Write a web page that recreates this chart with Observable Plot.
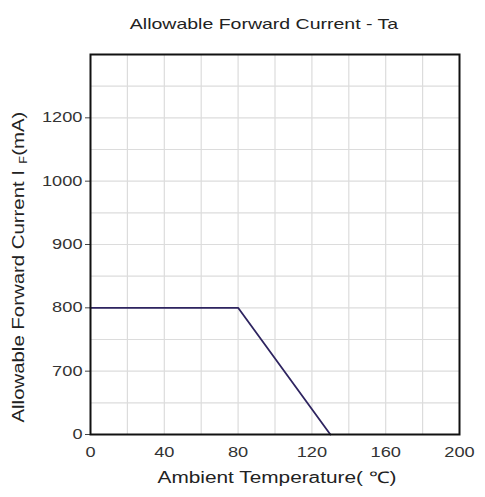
<!DOCTYPE html>
<html>
<head>
<meta charset="utf-8">
<script src="https://cdn.jsdelivr.net/npm/d3@7"></script>
<script src="https://cdn.jsdelivr.net/npm/@observablehq/plot@0.6"></script>
<style>
  html, body { margin: 0; padding: 0; background: #fff; }
</style>
</head>
<body>
<script>
// Data
const temps = [0, 80, 130];           // Ambient temperature (°C)
const currents = [800, 800, 0];       // Allowable forward current (mA)
const xTicks = [0, 40, 80, 120, 160, 200];
const xGrid = [20, 40, 60, 80, 100, 120, 140, 160, 180];
const yTicks = [0, 700, 800, 900, 1000, 1200];
const yDomain = [0, 700, 800, 900, 1000, 1200, 1400];
const yGrid = [350, 750, 850, 950, 1100, 1300];
const titleText = "Allowable Forward Current - Ta";
const xLabel = "Ambient Temperature( \u2103)";
const yLabelMain = "Allowable Forward Current I";
const yLabelSub = "F";
const yLabelUnit = "(mA)";

const W = 485, H = 497, mL = 90, mR = 26, mT = 54, mB = 63;
const step = (H - mT - mB) / (yDomain.length - 1);
const yRange = yDomain.map((d, i) => H - mB - i * step);

const points = temps.map((t, i) => ({t, c: currents[i]}));

const chart = Plot.plot({
  width: W,
  height: H,
  marginLeft: mL,
  marginRight: mR,
  marginTop: mT,
  marginBottom: mB,
  style: {fontFamily: "'Liberation Sans', Arial, sans-serif", fontSize: "14px", color: "#333", background: "#fff"},
  x: {domain: [0, 200]},
  y: {type: "linear", domain: yDomain, range: yRange},
  marks: [
    Plot.ruleX(xGrid, {stroke: "#dcdcdc", strokeWidth: 1.2}),
    Plot.ruleY(yGrid.concat(yTicks.slice(1)), {stroke: "#dcdcdc", strokeWidth: 1.2}),
    Plot.axisY({ticks: yTicks, tickSize: 5, tickPadding: 3, tickFormat: d => String(d), label: null, stroke: "#444", fill: "#333"}),
    Plot.axisX({ticks: xTicks, tickSize: 0, tickPadding: 13, tickFormat: d => String(d), label: null, fill: "#333"}),
    Plot.line(points, {x: "t", y: "c", stroke: "#2e2460", strokeWidth: 1.8}),
    Plot.frame({stroke: "#111", strokeWidth: 2}),
    Plot.text([titleText], {frameAnchor: "top", dx: -11, dy: -36, fontSize: 15, fill: "#222", text: d => d}),
    Plot.text([xLabel], {frameAnchor: "bottom", dx: 2, dy: 48, fontSize: 16, fill: "#222", text: d => d}),
    Plot.text([yLabelMain], {frameAnchor: "left", dx: -72, dy: 178, rotate: -90, textAnchor: "start", fontSize: 16, fill: "#222", text: d => d, className: "ylab"})
  ]
});

document.body.append(chart);

// stretch glyphs horizontally like the reference
chart.querySelectorAll("text").forEach(el => {
  const len = el.getComputedTextLength();
  if (len > 0) {
    el.setAttribute("textLength", (len * 1.3).toFixed(1));
    el.setAttribute("lengthAdjust", "spacingAndGlyphs");
  }
});

// y label: append subscript and unit after the stretched main text
const ylab = chart.querySelector(".ylab text");
if (ylab) {
  const ns = "http://www.w3.org/2000/svg";
  const main = ylab.textContent;
  ylab.textContent = "";
  ylab.removeAttribute("textLength");
  ylab.removeAttribute("lengthAdjust");
  const t1 = document.createElementNS(ns, "tspan"); t1.textContent = main;
  const t2 = document.createElementNS(ns, "tspan"); t2.textContent = yLabelSub;
  t2.setAttribute("font-size", "10"); t2.setAttribute("dy", "3"); t2.setAttribute("dx", "5");
  const t3 = document.createElementNS(ns, "tspan"); t3.textContent = yLabelUnit; t3.setAttribute("dy", "-3");
  ylab.append(t1, t2, t3);
  const len = ylab.getComputedTextLength();
  ylab.setAttribute("textLength", (len * 1.3).toFixed(1));
  ylab.setAttribute("lengthAdjust", "spacingAndGlyphs");
}
</script>
</body>
</html>
